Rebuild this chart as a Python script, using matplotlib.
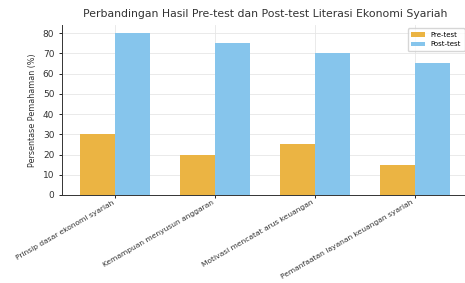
import matplotlib.pyplot as plt
import numpy as np

categories = ["Prinsip dasar ekonomi syariah", "Kemampuan menyusun anggaran",
              "Motivasi mencatat arus keuangan", "Pemanfaatan layanan keuangan syariah"]
pre_test = [30, 20, 25, 15]
post_test = [80, 75, 70, 65]

x = np.arange(len(categories))
w = 0.35

fig = plt.figure(figsize=(4.65, 2.83), dpi=100)
ax = fig.add_axes([62/465, 88/283, (468-62)/465, (195-25)/283])

ax.bar(x - w/2, pre_test, w, color='#ebb443', label='Pre-test', zorder=3)
ax.bar(x + w/2, post_test, w, color='#86c5ec', label='Post-test', zorder=3)

ax.set_xticks(x)
ax.set_xticklabels(categories, rotation=30, ha='right',
                   fontsize=5.4, color='#333333')
ax.tick_params(axis='y', labelsize=6.5, labelcolor='#333333')
ax.tick_params(length=2, width=0.6)
ax.tick_params(axis='x', pad=1)
ax.set_ylabel('Persentase Pemahaman (%)', fontsize=5.8, color='#333333')
ax.set_title('Perbandingan Hasil Pre-test dan Post-test Literasi Ekonomi Syariah',
             fontsize=7.8, color='#333333', pad=6)
ax.grid(True, color='#e6e6e6', linewidth=0.6, zorder=0)
ax.spines['top'].set_visible(False)
ax.spines['right'].set_visible(False)
for s in ['left', 'bottom']:
    ax.spines[s].set_linewidth(0.7)
    ax.spines[s].set_color('#333333')
ax.legend(loc='upper right', fontsize=5, frameon=True, handlelength=2, borderpad=0.5)

plt.savefig('out.png')
